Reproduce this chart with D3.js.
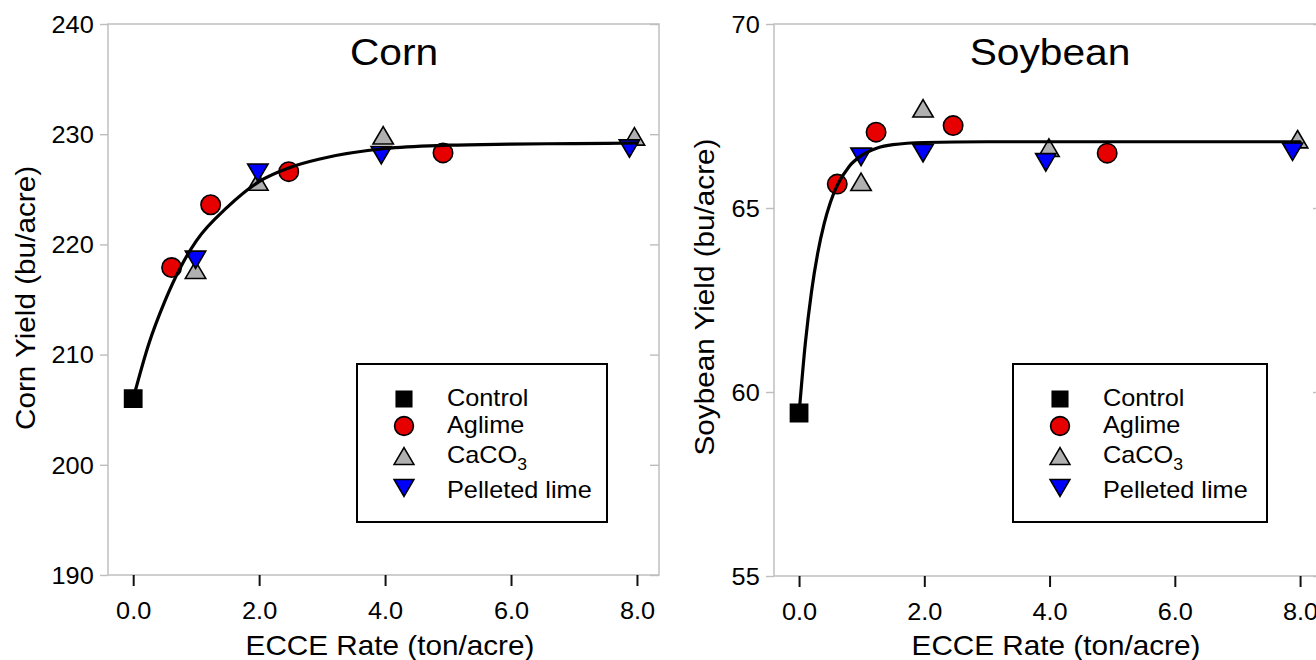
<!DOCTYPE html>
<html><head><meta charset="utf-8">
<script src="https://cdn.jsdelivr.net/npm/d3@7"></script>
<style>
body{margin:0;background:#fff}
text{font-family:"Liberation Sans",Arial,Helvetica,sans-serif;fill:#000}
</style>
</head><body>
<svg id="chart" width="1316" height="660"></svg>
<script>
// ---------------- DATA ----------------
const seriesNames = ["Control", "Aglime", "CaCO3", "Pelleted lime"];
const xTicks = [0, 2, 4, 6, 8];
const xTickLabels = ["0.0", "2.0", "4.0", "6.0", "8.0"];
const cornYTicks = [190, 200, 210, 220, 230, 240];
const soyYTicks = [55, 60, 65, 70];

// Corn
const cornControlX = [0];
const cornControlY = [206.0];
const cornAglimeX = [0.61, 1.23, 2.47, 4.92];
const cornAglimeY = [217.9, 223.6, 226.6, 228.3];
const cornCaco3X = [0.99, 1.98, 3.97, 7.96];
const cornCaco3Y = [217.7, 225.7, 229.9, 229.8];
const cornPelletX = [0.99, 1.98, 3.94, 7.88];
const cornPelletY = [218.6, 226.5, 228.1, 228.7];
const cornFitX = [0, 0.25, 0.5, 0.75, 1, 1.5, 2, 2.5, 3, 4, 5, 6, 7, 8];
const cornFitY = [206.0, 211.0, 214.8, 217.9, 220.3, 223.4, 225.7, 227.0, 227.8, 228.7, 229.0, 229.1, 229.15, 229.2];

// Soybean
const soyControlX = [0];
const soyControlY = [59.43];
const soyAglimeX = [0.61, 1.23, 2.46, 4.92];
const soyAglimeY = [65.65, 67.06, 67.24, 66.49];
const soyCaco3X = [0.99, 1.98, 3.99, 7.96];
const soyCaco3Y = [65.71, 67.71, 66.64, 66.87];
const soyPelletX = [0.99, 1.98, 3.94, 7.88];
const soyPelletY = [66.39, 66.49, 66.24, 66.53];
const soyFitX = [0, 0.1, 0.2, 0.3, 0.4, 0.5, 0.6, 0.8, 1.0, 1.25, 1.5, 2, 3, 8];
const soyFitY = [59.4, 61.32, 62.74, 63.79, 64.57, 65.15, 65.58, 66.13, 66.43, 66.63, 66.72, 66.78, 66.8, 66.8];

// ---------------- STYLE / LAYOUT ----------------
const SX = 1.1; // horizontal text stretch
const FONT_TICK = 23, FONT_AXIS = 27, FONT_LEG = 23, FONT_TITLE = 37;
const seriesStyle = {
  "Control": {shape: "square", fill: "#000000"},
  "Aglime": {shape: "circle", fill: "#e60000"},
  "CaCO3": {shape: "up", fill: "#b0b0b0"},
  "Pelleted lime": {shape: "down", fill: "#0000ff"}
};

const panels = [
  {
    title: "Corn", yTitle: "Corn Yield (bu/acre)", yDomain: [190, 240], yTicks: cornYTicks,
    frame: {l: 108, r: 659, t: 24, b: 575}, titleX: 394, yTitleX: 35, yTitleY: 298, xTitleX: 390,
    legend: {x: 357, y: 364, w: 250, h: 158},
    series: {
      "Control": [cornControlX, cornControlY],
      "Aglime": [cornAglimeX, cornAglimeY],
      "CaCO3": [cornCaco3X, cornCaco3Y],
      "Pelleted lime": [cornPelletX, cornPelletY]
    },
    fit: [cornFitX, cornFitY]
  },
  {
    title: "Soybean", yTitle: "Soybean Yield (bu/acre)", yDomain: [55, 70], yTicks: soyYTicks,
    frame: {l: 774, r: 1322, t: 24, b: 576}, titleX: 1050, yTitleX: 714, yTitleY: 297, xTitleX: 1056,
    legend: {x: 1013, y: 364, w: 254, h: 158},
    series: {
      "Control": [soyControlX, soyControlY],
      "Aglime": [soyAglimeX, soyAglimeY],
      "CaCO3": [soyCaco3X, soyCaco3Y],
      "Pelleted lime": [soyPelletX, soyPelletY]
    },
    fit: [soyFitX, soyFitY]
  }
];

function shapePath(shape, k) {
  k = k || 1;
  if (shape === "square") { const s = 8.6 * k; return `M${-s},${-s}H${s}V${s}H${-s}Z`; }
  if (shape === "circle") { const r = 9.7 * k; return `M${r},0A${r},${r} 0 1,1 ${-r},0A${r},${r} 0 1,1 ${r},0Z`; }
  const w = 10.2 * k, h = 8.7 * k;
  if (shape === "up") return `M0,${-h}L${w},${h}L${-w},${h}Z`;
  return `M0,${h}L${w},${-h}L${-w},${-h}Z`;
}

function label(g, str, x, y, size, anchor, rot) {
  return g.append("text")
    .attr("transform", `translate(${x},${y})${rot ? ` rotate(${rot})` : ""} scale(${SX},1)`)
    .attr("text-anchor", anchor)
    .attr("font-size", size)
    .text(str);
}

const svg = d3.select("#chart");
svg.append("rect").attr("width", 1316).attr("height", 660).attr("fill", "#fff");

panels.forEach(p => {
  const f = p.frame;
  const x = d3.scaleLinear().domain([-0.4, 8.35]).range([f.l, f.r]);
  const y = d3.scaleLinear().domain(p.yDomain).range([f.b, f.t]);
  const g = svg.append("g");

  // frame
  g.append("rect").attr("x", f.l).attr("y", f.t).attr("width", f.r - f.l).attr("height", f.b - f.t)
    .attr("fill", "none").attr("stroke", "#c4c4c4").attr("stroke-width", 1.6);

  // left y axis (outward ticks)
  const ya = g.append("g").attr("transform", `translate(${f.l},0)`)
    .call(d3.axisLeft(y).tickValues(p.yTicks).tickSize(8).tickPadding(5).tickFormat(d3.format("d")));
  ya.select(".domain").remove();
  ya.selectAll(".tick line").attr("stroke", "#bdbdbd").attr("stroke-width", 1.4);
  ya.selectAll(".tick text").attr("font-size", FONT_TICK).attr("fill", "#000")
    .attr("font-family", null).attr("dy", "0.36em").attr("transform", `scale(${SX},1)`);

  // right y axis (inward ticks)
  const yr = g.append("g").attr("transform", `translate(${f.r},0)`)
    .call(d3.axisLeft(y).tickValues(p.yTicks).tickSize(9).tickFormat(""));
  yr.select(".domain").remove();
  yr.selectAll(".tick line").attr("stroke", "#bdbdbd").attr("stroke-width", 1.4);

  // x axis
  const xa = g.append("g").attr("transform", `translate(0,${f.b})`)
    .call(d3.axisBottom(x).tickValues(xTicks).tickSize(11).tickPadding(17)
      .tickFormat((d, i) => xTickLabels[i]));
  xa.select(".domain").remove();
  xa.selectAll(".tick line").attr("stroke", "#111").attr("stroke-width", 2);
  xa.selectAll(".tick text").attr("font-size", FONT_TICK).attr("fill", "#000")
    .attr("font-family", null).attr("transform", `scale(${SX},1)`);

  // titles
  label(g, p.title, p.titleX, 65, FONT_TITLE, "middle");
  label(g, "ECCE Rate (ton/acre)", p.xTitleX, 655, FONT_AXIS, "middle");
  label(g, p.yTitle, p.yTitleX, p.yTitleY, FONT_AXIS, "middle", -90);

  // points
  seriesNames.forEach(name => {
    const [xs, ys] = p.series[name];
    const st = seriesStyle[name];
    g.append("g").selectAll("path").data(xs.map((v, i) => [v, ys[i]])).join("path")
      .attr("transform", d => `translate(${x(d[0])},${y(d[1])})`)
      .attr("d", shapePath(st.shape))
      .attr("fill", st.fill).attr("stroke", "#000").attr("stroke-width", 1.6);
  });

  // fitted curve
  const line = d3.line().x(d => x(d[0])).y(d => y(d[1])).curve(d3.curveMonotoneX);
  g.append("path").datum(p.fit[0].map((v, i) => [v, p.fit[1][i]]))
    .attr("d", line).attr("fill", "none").attr("stroke", "#000").attr("stroke-width", 3.2)
    .attr("stroke-linecap", "round");

  // legend
  const L = p.legend;
  const lg = g.append("g");
  lg.append("rect").attr("x", L.x).attr("y", L.y).attr("width", L.w).attr("height", L.h)
    .attr("fill", "#fff").attr("stroke", "#000").attr("stroke-width", 2);
  const rowY = [35, 62, 92, 124];
  const textY = [41.5, 69, 98.5, 134];
  seriesNames.forEach((name, i) => {
    const st = seriesStyle[name];
    lg.append("path").attr("transform", `translate(${L.x + 47},${L.y + rowY[i]})`)
      .attr("d", shapePath(st.shape, st.shape === "square" ? 0.9 : 0.97))
      .attr("fill", st.fill).attr("stroke", "#000").attr("stroke-width", 1.6);
    const t = lg.append("text")
      .attr("transform", `translate(${L.x + 90},${L.y + textY[i]}) scale(${SX},1)`)
      .attr("font-size", FONT_LEG);
    if (name === "CaCO3") {
      t.append("tspan").text("CaCO");
      t.append("tspan").attr("font-size", 16).attr("dy", 7).text("3");
    } else {
      t.text(name);
    }
  });
});
</script>
</body></html>
